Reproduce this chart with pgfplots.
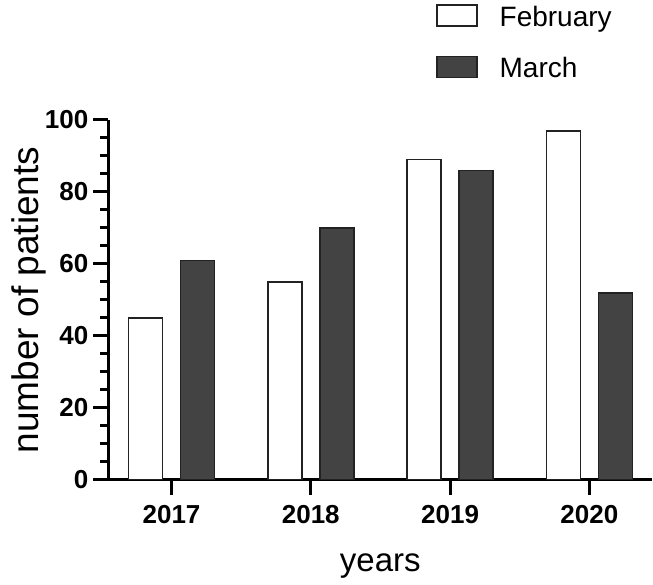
\documentclass[border=0pt]{standalone}
\usepackage{pgfplots}
\pgfplotsset{compat=1.18}
\usepackage{fontspec}
\setmainfont{Liberation Sans}
\definecolor{barDark}{HTML}{434343}
\definecolor{barEdge}{HTML}{222222}

% patients per month, 2017..2020 plotted at 0..3
\pgfplotstableread{
x feb mar
0 45 61
1 55 70
2 89 86
3 97 52
}\patients

\begin{document}
\begin{tikzpicture}
\begin{axis}[
  name=ax,
  scale only axis,
  width=543.5pt, height=360pt,
  ybar=18pt, bar width=34pt,
  xmin=-0.4526, xmax=3.45,
  ymin=0, ymax=100,
  axis x line*=bottom, axis y line*=left,
  axis line style={line width=3pt, black, -},
  xtick={0,1,2,3}, xticklabels={2017,2018,2019,2020},
  ytick={0,20,...,100}, minor y tick num=3,
  minor x tick num=0,
  tick align=outside, major tick length=15pt, minor tick length=8pt,
  every tick/.append style={line width=3pt, black},
  every major tick/.append style={line width=3pt, black},
  every minor tick/.append style={line width=3pt, black},
  xtick style={line width=3pt, black},
  ytick style={line width=3pt, black},
  major x tick style={line width=3pt, black, /pgfplots/major tick length=15pt},
  /pgf/number format/assume math mode=true,
  ticklabel style={font=\bfseries\fontsize{26}{26}\selectfont, inner sep=0pt},
  yticklabel style={anchor=east, xshift=-5pt},
  xticklabel style={anchor=north, yshift=-10pt},
  xlabel={years},
  xlabel style={font=\fontsize{33}{33}\selectfont, inner sep=0pt,
    at={(rel axis cs:0.5,-0.2547)}, anchor=base},
  ylabel={number of patients},
  ylabel style={font=\fontsize{37}{37}\selectfont, inner sep=0pt,
    at={(rel axis cs:-0.1297,0.5)}, anchor=base},
  legend image code/.code={\draw[#1, line width=1.5pt] (0pt,0pt) rectangle (40pt,21pt);},
  legend cell align=left,
  legend style={at={(rel axis cs:0.6025,1.3215)}, anchor=north west,
    draw=none, fill=none, inner sep=0pt, row sep=28pt,
    font=\fontsize{28}{28}\selectfont,
    nodes={inner sep=0pt},
    cells={anchor=base west},
    /tikz/every odd column/.style={column sep=22pt}},
]
\addplot[draw=barEdge, line width=1.5pt, fill=white] table[x=x, y=feb] {\patients};
\addplot[draw=barEdge, line width=1.5pt, fill=barDark] table[x=x, y=mar] {\patients};
\legend{February, March}
\end{axis}
\pgfresetboundingbox
\path[use as bounding box] ([shift={(-108.5pt,-105pt)}]ax.south west)
  rectangle ([shift={(544.5pt,480pt)}]ax.south west);
\end{tikzpicture}
\end{document}
